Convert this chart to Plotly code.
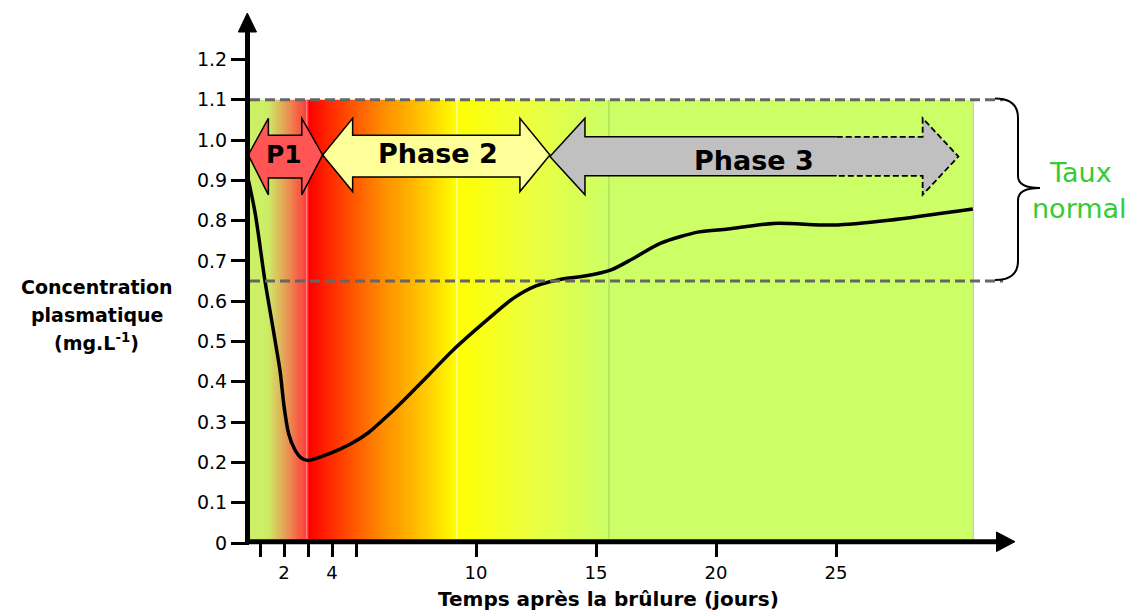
import numpy as np
import plotly.graph_objects as go

# ---------------- data ----------------
days = [0.5, 0.8, 1.2, 1.55, 1.84, 2.0, 2.2, 2.45, 2.7, 3.0, 3.9, 4.75, 5.5, 6.3,
        7.0, 8.08, 9.05, 10.45, 11.55, 12.5, 13.5, 14.6, 15.6, 16.55, 17.7, 19.3, 20.5,
        22.4, 24.9, 27.2, 30.7]
conc = [0.905, 0.818, 0.653, 0.53, 0.425, 0.34, 0.27, 0.232, 0.212, 0.205, 0.222,
        0.245, 0.273, 0.315, 0.355, 0.42, 0.479, 0.553, 0.607, 0.638, 0.654, 0.663, 0.677,
        0.706, 0.744, 0.772, 0.779, 0.793, 0.789, 0.801, 0.829]

x_tick_vals = [2, 4, 10, 15, 20, 25]
x_tick_text = ["2", "4", "10", "15", "20", "25"]
x_minor_ticks = [1, 3, 5]
y_tick_vals = [0, 0.1, 0.2, 0.3, 0.4, 0.5, 0.6, 0.7, 0.8, 0.9, 1.0, 1.1, 1.2]
y_tick_text = ["0", "0.1", "0.2", "0.3", "0.4", "0.5", "0.6", "0.7", "0.8", "0.9",
               "1.0", "1.1", "1.2"]

normal_low = 0.65
normal_high = 1.1

phase_names = ["P1", "Phase 2", "Phase 3"]
phase_start = [0.51, 3.61, 13.08]
phase_end = [3.61, 13.08, 30.1]
phase_fill = ["#ff5555", "#ffff99", "#c0c0c0"]

# background gradient (day position -> colour)
grad_days = [0.58, 1.3, 2.1, 2.95, 3.05, 4.5, 6.0, 7.5, 9.2, 12.0, 15.5, 30.72]
grad_cols = ["#ccf066", "#ccee66", "#e89a55", "#ff3a3a", "#ff0000", "#ff4400",
             "#ff8800", "#ffbb00", "#ffff00", "#eeff3a", "#ccff66", "#ccff66"]
phase_lines = [2.95, 9.2, 15.54]

# ---------------- geometry ----------------
W, H = 1130, 612
ML, MR, MT, MB = 250, 85, 10, 69
PX0, PXD = 236.0, 24.0      # px = PX0 + PXD*day
PY0, PYV = 543.0, 403.0     # py = PY0 - PYV*value
x_range = [(ML - PX0) / PXD, (W - MR - PX0) / PXD]
y_range = [0, (PY0 - MT) / PYV]
pw, ph = W - ML - MR, H - MT - MB


def px(xp):
    return (xp - ML) / pw


def py(yp):
    return (H - MB - yp) / ph


fig = go.Figure()

# gradient background
bg0, bg1 = grad_days[0], grad_days[-1]
edges = np.linspace(bg0, bg1, 701)
centers = (edges[:-1] + edges[1:]) / 2
cscale = [[(d - bg0) / (bg1 - bg0), c] for d, c in zip(grad_days, grad_cols)]
fig.add_trace(go.Heatmap(x=edges, y=[0, normal_high], z=[centers], zmin=bg0, zmax=bg1,
                         colorscale=cscale, showscale=False, hoverinfo="skip"))

line_cols = ["rgba(255,170,170,0.8)", "rgba(255,255,210,0.9)", "#a6d456"]
for d, c in zip(phase_lines, line_cols):
    fig.add_trace(go.Scatter(x=[d, d], y=[0, normal_high], mode="lines",
                             line=dict(color=c, width=1), hoverinfo="skip", showlegend=False))
fig.add_trace(go.Scatter(x=[bg1, bg1], y=[0, normal_high], mode="lines",
                         line=dict(color="#bbbbbb", width=1), hoverinfo="skip", showlegend=False))

# curve
fig.add_trace(go.Scatter(x=days, y=conc, mode="lines",
                         line=dict(color="black", width=3.5, shape="spline", smoothing=0.8),
                         hoverinfo="skip", showlegend=False))

shapes = []
# dashed normal-range lines
for v in (normal_high, normal_low):
    shapes.append(dict(type="line", xref="x", yref="y", x0=x_range[0], x1=31.96, y0=v, y1=v,
                       line=dict(color="#666666", width=3, dash="10px,5px")))

# phase arrows
cy = [0.963, 0.963, 0.959]
ht, hb = 1.054, [0.864, 0.872, 0.864]
st = [1.012, 1.012, 1.008]
sb = [0.906, 0.908, 0.911]
head = [0.84, 1.25, 1.46]
head_r = [0.87, 1.25, 1.49]
for i in range(3):
    lt, rt = phase_start[i], phase_end[i]
    li, ri = lt + head[i], rt - head_r[i]
    p = (f"M{lt},{cy[i]} L{li},{ht} L{li},{st[i]} L{ri},{st[i]} L{ri},{ht} L{rt},{cy[i]} "
         f"L{ri},{hb[i]} L{ri},{sb[i]} L{li},{sb[i]} L{li},{hb[i]} Z")
    if i < 2:
        shapes.append(dict(type="path", xref="x", yref="y", path=p, fillcolor=phase_fill[i],
                           line=dict(color="black", width=1.5)))
    else:
        shapes.append(dict(type="path", xref="x", yref="y", path=p, fillcolor=phase_fill[i],
                           line=dict(width=0)))
        xd = 25.03
        p1 = (f"M{xd},{st[i]} L{li},{st[i]} L{li},{ht} L{lt},{cy[i]} L{li},{hb[i]} "
              f"L{li},{sb[i]} L{xd},{sb[i]}")
        p2 = (f"M{xd},{st[i]} L{ri},{st[i]} L{ri},{ht} L{rt},{cy[i]} L{ri},{hb[i]} "
              f"L{ri},{sb[i]} L{xd},{sb[i]}")
        shapes.append(dict(type="path", xref="x", yref="y", path=p1,
                           fillcolor="rgba(0,0,0,0)", line=dict(color="black", width=1.5)))
        shapes.append(dict(type="path", xref="x", yref="y", path=p2,
                           fillcolor="rgba(0,0,0,0)",
                           line=dict(color="black", width=1.8, dash="6px,3px")))


# brace (data coords)
def dx(xp):
    return (xp - PX0) / PXD


def dy(yp):
    return (PY0 - yp) / PYV


bx0, bxm, bxt = dx(995), dx(1018), dx(1040)
brace = (f"M{bx0},{dy(98.5)} Q{bxm},{dy(98.5)} {bxm},{dy(118)} L{bxm},{dy(176)} "
         f"Q{bxm},{dy(188)} {bxt},{dy(188)} Q{bxm},{dy(188)} {bxm},{dy(200)} "
         f"L{bxm},{dy(261)} Q{bxm},{dy(280)} {bx0},{dy(280)}")
shapes.append(dict(type="path", xref="x", yref="y", path=brace,
                   fillcolor="rgba(0,0,0,0)", line=dict(color="black", width=2)))

# axes with arrows (paper coords)
shapes.append(dict(type="line", xref="paper", yref="paper", x0=px(247.5), x1=px(247.5),
                   y0=py(544), y1=py(30), line=dict(color="black", width=5)))
shapes.append(dict(type="path", xref="paper", yref="paper",
                   path=f"M{px(247.3)},{py(13)} L{px(238.3)},{py(32)} L{px(256.5)},{py(32)} Z",
                   fillcolor="black", line=dict(color="black", width=1)))
shapes.append(dict(type="line", xref="paper", yref="paper", x0=px(245), x1=px(998),
                   y0=py(541.7), y1=py(541.7), line=dict(color="black", width=5)))
shapes.append(dict(type="path", xref="paper", yref="paper",
                   path=f"M{px(1015)},{py(541.7)} L{px(996.5)},{py(532)} L{px(996.5)},{py(551.5)} Z",
                   fillcolor="black", line=dict(color="black", width=1)))

FONT = "DejaVu Sans, Liberation Sans, Arial"
ann = []
phase_cx = [2.0, 8.4, 21.6]
phase_cy = [0.963, 0.966, 0.950]
phase_fs = [25, 27, 27]
for n, cx, cyy, fs in zip(phase_names, phase_cx, phase_cy, phase_fs):
    ann.append(dict(x=cx, y=cyy, xref="x", yref="y", text=n, showarrow=False,
                    font=dict(family=FONT, size=fs, color="black", weight="bold"),
                    xanchor="center", yanchor="middle"))

ann.append(dict(x=px(1080), y=py(172), xref="paper", yref="paper", text="Taux",
                showarrow=False, font=dict(family=FONT, size=27, color="#33cc33"),
                xanchor="center", yanchor="middle"))
ann.append(dict(x=px(1079), y=py(208), xref="paper", yref="paper", text="normal",
                showarrow=False, font=dict(family=FONT, size=27, color="#33cc33"),
                xanchor="center", yanchor="middle"))

ytitle = ["Concentration", "plasmatique", "(mg.L<sup>-1</sup>)"]
ytitle_y = [287, 315, 342]
for t, yy in zip(ytitle, ytitle_y):
    ann.append(dict(x=px(96.5), y=py(yy), xref="paper", yref="paper", text=t,
                    showarrow=False, font=dict(family=FONT, size=19, color="black", weight="bold"),
                    xanchor="center", yanchor="middle"))
ann.append(dict(x=px(608), y=py(599), xref="paper", yref="paper",
                text="Temps après la brûlure (jours)", showarrow=False,
                font=dict(family=FONT, size=20, color="black", weight="bold"),
                xanchor="center", yanchor="middle"))

fig.update_layout(
    width=W, height=H, autosize=False,
    margin=dict(l=ML, r=MR, t=MT, b=MB, pad=0),
    paper_bgcolor="white", plot_bgcolor="white",
    showlegend=False,
    shapes=shapes, annotations=ann,
    xaxis=dict(range=x_range, showgrid=False, zeroline=False, showline=False,
               tickmode="array", tickvals=x_tick_vals, ticktext=x_tick_text,
               ticks="outside", ticklen=13, tickwidth=3, tickcolor="black",
               tickfont=dict(family=FONT, size=18, color="black"),
               minor=dict(tickmode="array", tickvals=x_minor_ticks, ticks="outside",
                          ticklen=13, tickwidth=3, tickcolor="black", showgrid=False)),
    yaxis=dict(range=y_range, showgrid=False, zeroline=False, showline=False,
               tickmode="array", tickvals=y_tick_vals, ticktext=y_tick_text,
               ticks="outside", ticklen=18, tickwidth=3, tickcolor="black",
               tickfont=dict(family=FONT, size=19, color="black")),
)

fig.write_html("out.html", config={"displayModeBar": False},
               post_script="document.body.style.margin='0';document.body.style.overflow='hidden';")
